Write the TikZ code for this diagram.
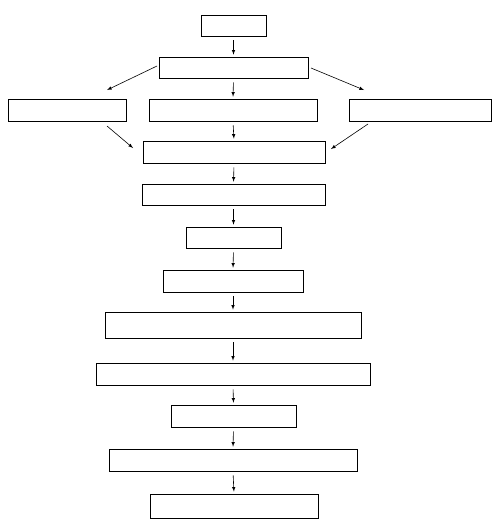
\documentclass[tikz,border=0pt]{standalone}
\usetikzlibrary{arrows,positioning}
\tikzstyle{box} = [rectangle, draw, fill=white, inner sep=0pt, line width=0.6pt]
\tikzstyle{line} = [draw, -latex, line width=0.6pt, shorten <=4pt, shorten >=2pt]

\begin{document}
\begin{tikzpicture}[x=1pt,y=-1pt]
		\useasboundingbox (0,0) rectangle (500,522);
		% Boxes
		\node[box, minimum width=65pt, minimum height=21pt] (start) at (233.5,25.5) {};
		\node[box, minimum width=149pt, minimum height=21pt] (split) at (233.5,67.5) {};
		\node[box, minimum width=118pt, minimum height=22pt] (left) at (67,110) {};
		\node[box, minimum width=168pt, minimum height=22pt] (mid) at (233,110) {};
		\node[box, minimum width=142pt, minimum height=22pt] (right) at (420,110) {};
		\node[box, minimum width=182pt, minimum height=22pt] (join) at (234,152) {};
		\node[box, minimum width=183pt, minimum height=21pt] (s5) at (233.5,194.5) {};
		\node[box, minimum width=95pt, minimum height=21pt] (s6) at (233.5,237.5) {};
		\node[box, minimum width=140pt, minimum height=22pt] (s7) at (233,281) {};
		\node[box, minimum width=256pt, minimum height=26pt] (s8) at (233,325) {};
		\node[box, minimum width=274pt, minimum height=22pt] (s9) at (233,374) {};
		\node[box, minimum width=125pt, minimum height=22pt] (s10) at (233.5,416) {};
		\node[box, minimum width=248pt, minimum height=22pt] (s11) at (233,460) {};
		\node[box, minimum width=168pt, minimum height=24pt] (s12) at (234,506) {};

		% empty nodes for the slanted arrows
		\coordinate (splitL) at (157,66);
		\coordinate (leftIn) at (107,90);
		\coordinate (splitR) at (311,68);
		\coordinate (rightIn) at (364,90);
		\coordinate (leftOut) at (107,126);
		\coordinate (joinL) at (133,148);
		\coordinate (rightOut) at (368,124);
		\coordinate (joinR) at (331,149);

		% Paths
		\path [line] (start.south) -- (split.north);
		\path [line] (split.south) -- (mid.north);
		\path [line, shorten <=0pt, shorten >=0pt] (splitL) -- (leftIn);
		\path [line, shorten <=0pt, shorten >=0pt] (splitR) -- (rightIn);
		\path [line] (mid.south) -- (join.north);
		\path [line, shorten <=0pt, shorten >=0pt] (leftOut) -- (joinL);
		\path [line, shorten <=0pt, shorten >=0pt] (rightOut) -- (joinR);
		\path [line] (join.south) -- (s5.north);
		\path [line] (s5.south) -- (s6.north);
		\path [line] (s6.south) -- (s7.north);
		\path [line] (s7.south) -- (s8.north);
		\path [line] (s8.south) -- (s9.north);
		\path [line] (s9.south) -- (s10.north);
		\path [line] (s10.south) -- (s11.north);
		\path [line] (s11.south) -- (s12.north);
\end{tikzpicture}
\end{document}
